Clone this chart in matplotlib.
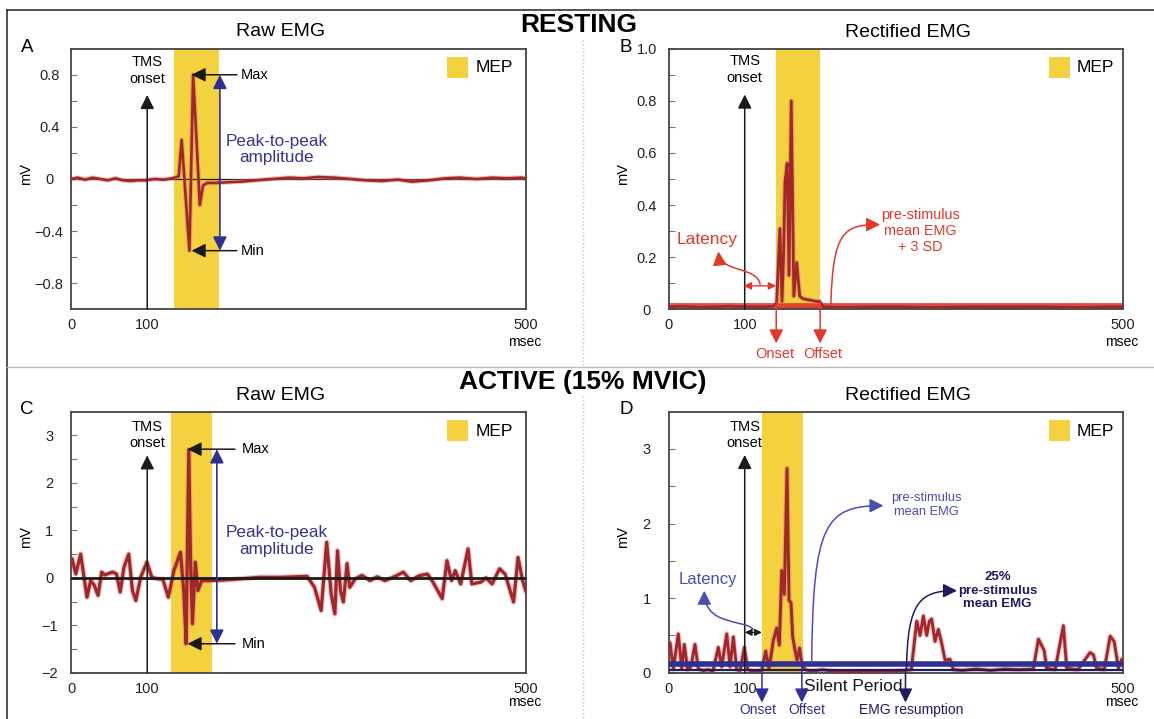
import numpy as np
import matplotlib
matplotlib.use('Agg')
import matplotlib.pyplot as plt
from matplotlib.patches import Rectangle, FancyArrowPatch
from matplotlib.path import Path
from matplotlib.lines import Line2D

plt.rcParams['font.family'] = ['Liberation Sans', 'DejaVu Sans']

W, H = 1154, 719

# time axis: msec, TMS pulse at 100 ms
TMS_T = 100
XTICKS = [0, 100, 500]
XTICKLABELS = ['0', '100', '500']

# A - resting, raw EMG (mV)
A_T = [0, 8, 18, 28, 38, 48, 58, 68, 78, 88, 98, 108, 118, 126, 133.3, 136.4, 144.6, 148.5, 155.6, 159,
       163.4, 172, 185, 200, 215, 232, 250, 265, 280, 298, 315, 330, 348, 365, 380, 398, 415, 430, 448,
       465, 480, 495, 500]
A_MV = [0.0, 0.01, -0.005, 0.01, 0.0, -0.01, 0.005, -0.01, -0.015, -0.01, -0.01, 0.0, -0.005, 0.005, 0.02,
        0.30, -0.55, 0.80, -0.20, -0.05, -0.03, -0.03, -0.025, -0.02, -0.01, 0.0, 0.01, 0.005, 0.015, 0.01,
        0.0, -0.01, -0.015, -0.005, -0.02, -0.01, 0.005, 0.01, 0.0, 0.01, 0.005, 0.01, 0.005]
MEP_A = (128, 175.5)

# B - resting, rectified EMG
B_T = [0, 20, 40, 60, 80, 100, 120, 130, 133.7, 137.2, 139.4, 141, 142.6, 144.9, 146.8, 149.2, 151.9, 155,
       158.1, 162, 169.7, 176, 179.3, 183.2, 200, 250, 300, 350, 400, 450, 500]
B_MV = [0.01, 0.012, 0.008, 0.01, 0.012, 0.01, 0.01, 0.012, 0.025, 0.31, 0.03, 0.20, 0.49, 0.56, 0.13, 0.80,
        0.05, 0.18, 0.05, 0.04, 0.035, 0.03, 0.03, 0.01, 0.008, 0.01, 0.008, 0.01, 0.01, 0.008, 0.01]
MEP_B = (132.6, 179.7)
B_ONSET, B_OFFSET = 133.3, 179.7
B_THRESH = 0.013          # pre-stimulus mean + 3 SD

# C - active, raw EMG
C_T = [0, 0.9, 5.8, 12.2, 20.5, 25.4, 30, 35.1, 40.0, 44, 47.4, 51, 54.6, 59.5, 64.4, 69.3, 75.6, 80.5,
       85.0, 91.3, 99.6, 104.8, 110, 116.5, 122.3, 128.2, 135.2, 138.8, 141.1, 143.9, 145.8, 147.8, 150.8,
       153.6, 157.5, 163.4, 179.1, 200, 218.2, 240, 255, 269.0, 276.8, 283.8, 289.7, 294.4, 298.3, 301.1,
       304.2, 307.3, 311.2, 314.0, 319.9, 327, 335.5, 343, 351.2, 362, 370.7, 378.5, 387, 396.1, 402.0,
       411.7, 416.8, 421.6, 425.5, 431.3, 439.1, 443.0, 452.8, 458, 464.5, 472.3, 478.2, 487.2, 491.9,
       496.7, 500]
C_MV = [0.35, 0.40, 0.08, 0.50, -0.41, -0.06, -0.15, -0.37, 0.12, 0.06, 0.08, 0.10, 0.12, 0.08, -0.30,
        0.22, 0.50, -0.27, -0.48, 0.01, 0.33, 0.01, -0.02, -0.03, -0.41, 0.15, 0.54, -0.34, -1.39, 2.70,
        0.36, -0.97, 0.33, -0.27, -0.06, -0.06, -0.05, -0.02, 0.01, 0.01, 0.02, 0.03, -0.20, -0.69, 0.75,
        -0.34, -0.76, 0.57, -0.27, -0.51, 0.30, -0.20, -0.02, 0.05, -0.06, 0.02, -0.06, 0.03, 0.12, -0.06,
        0.04, 0.08, -0.09, -0.44, 0.36, -0.06, 0.15, -0.13, 0.61, -0.13, -0.09, 0.0, -0.13, 0.19, 0.08,
        -0.51, 0.43, -0.06, -0.27]
MEP_C = (125.1, 168.1)

# D - active, rectified EMG
D_T = [0, 1.5, 5.8, 12.4, 16.9, 20.3, 24.7, 29, 34.4, 38.8, 45, 52, 58, 65.2, 69.6, 76.3, 80.7, 85.0, 89.4,
       94, 99.5, 103.1, 110, 117.9, 122.2, 125.7, 130.2, 133.8, 136.6, 139.1, 141.9, 144.7, 146.8, 148.9,
       150.7, 153.2, 155.3, 158.0, 160.5, 164, 171, 181.6, 195, 210, 225, 240, 255, 268, 276, 281.8, 285.3,
       288.8, 292.3, 295.1, 297.6, 301.1, 304.6, 308.1, 311.7, 317, 320.5, 330, 345, 360, 375, 390, 405,
       410.4, 414, 416.4, 419.2, 428, 436.8, 440.3, 452, 465, 468.5, 472, 480, 486.2, 490.4, 495, 498.5, 500]
D_MV = [0.38, 0.40, 0.05, 0.52, 0.06, 0.38, 0.04, 0.08, 0.38, 0.05, 0.03, 0.04, 0.02, 0.34, 0.08, 0.52,
        0.08, 0.48, 0.04, 0.03, 0.34, 0.04, 0.02, 0.03, 0.29, 0.05, 0.43, 0.60, 0.37, 1.37, 1.05, 2.74,
        0.97, 0.94, 0.48, 0.30, 0.17, 0.33, 0.11, 0.04, 0.02, 0.04, 0.02, 0.01, 0.02, 0.015, 0.02, 0.03,
        0.04, 0.69, 0.50, 0.76, 0.50, 0.69, 0.72, 0.42, 0.58, 0.40, 0.17, 0.18, 0.04, 0.03, 0.05, 0.03,
        0.05, 0.04, 0.05, 0.45, 0.36, 0.30, 0.06, 0.04, 0.63, 0.06, 0.04, 0.27, 0.24, 0.06, 0.04, 0.49,
        0.42, 0.06, 0.18, 0.12]
MEP_D = (118.2, 161.1)
D_ONSET, D_OFFSET, D_RESUME = 118.2, 160.4, 269.9
D_PRE_MEAN = 0.12

# colours
TRACE = '#A3262A'
HALO = '#CF7C7C'
YELLOW = '#F3D13F'
RED = '#E2382B'
NAVY = '#2E3192'
BLUE = '#4A4DB3'
PURPLE = '#35348F'
DARK_NAVY = '#1E1B5E'
INK = '#1A1A1A'

# the time axis is drawn stretched after the TMS pulse
K = 1.248


def _fwd(t):
    t = np.asarray(t, float)
    return np.where(t <= TMS_T, t, TMS_T + (t - TMS_T) * K)


def _inv(u):
    u = np.asarray(u, float)
    return np.where(u <= TMS_T, u, TMS_T + (u - TMS_T) / K)


HEAD = '-|>,head_length=0.6,head_width=0.3'
HEAD2 = '<|-|>,head_length=0.6,head_width=0.3'
SMALL2 = '<|-|>,head_length=0.45,head_width=0.22'

fig = plt.figure(figsize=(W / 100, H / 100), dpi=100)


def px_axes(left, top, right, bottom):
    return fig.add_axes([left / W, 1 - bottom / H, (right - left) / W, (bottom - top) / H])


def setup(ax, ylim, major, labels, minor, msec_y):
    ax.set_xscale('function', functions=(_fwd, _inv))
    ax.set_xlim(0, 500)
    ax.set_ylim(*ylim)
    ax.set_xticks(XTICKS)
    ax.set_xticklabels(XTICKLABELS)
    ax.set_yticks(major)
    ax.set_yticklabels(labels)
    ax.set_yticks(minor, minor=True)
    ax.xaxis.set_minor_locator(matplotlib.ticker.NullLocator())
    ax.tick_params(axis='x', length=0, pad=6.5, labelsize=10.5, labelcolor='#222')
    ax.tick_params(axis='y', which='both', direction='in', length=4, width=0.8, color='#777',
                   pad=16, labelsize=10.5, labelcolor='#222')
    plt.setp(ax.get_yticklabels(), ha='center')
    for s in ax.spines.values():
        s.set_color('#444')
        s.set_linewidth(1.3)
    ax.set_ylabel('mV', fontsize=10.5)
    ax.yaxis.set_label_coords(-0.085, 0.52)
    ax.text(0.997, msec_y, 'msec', transform=ax.transAxes, ha='center', va='center', fontsize=10)


def mep(ax, span, sq_x, txt_x):
    ax.axvspan(span[0], span[1], color=YELLOW, lw=0, zorder=0)
    ax.add_patch(Rectangle((sq_x, 0.886), 0.046, 0.081, transform=ax.transAxes,
                           color=YELLOW, lw=0))
    ax.text(txt_x, 0.926, 'MEP', transform=ax.transAxes, fontsize=12.5, va='center')


def trace(ax, t, v, lw=1.9):
    ax.plot(t, v, color=HALO, lw=lw + 1.6, alpha=0.45, solid_joinstyle='round', zorder=2)
    ax.plot(t, v, color=TRACE, lw=lw, solid_joinstyle='round', zorder=3)


def tms(ax, y0, y1, ytxt):
    ax.annotate('', xy=(TMS_T, y1), xytext=(TMS_T, y0),
                arrowprops=dict(arrowstyle=HEAD, mutation_scale=14, lw=1.1, color=INK,
                                shrinkA=0, shrinkB=0), zorder=4)
    ax.text(TMS_T, ytxt, 'TMS\nonset', ha='center', va='center', fontsize=10.5, linespacing=1.2)


def arrow(ax, xy, xytext, color, style=HEAD, ms=14, lw=1.1, z=5):
    ax.annotate('', xy=xy, xytext=xytext, annotation_clip=False,
                arrowprops=dict(arrowstyle=style, mutation_scale=ms, lw=lw, color=color,
                                shrinkA=0, shrinkB=0), zorder=z)


def curve(ax, pts, color, lw=1.1):
    path = Path(pts, [Path.MOVETO, Path.CURVE4, Path.CURVE4, Path.CURVE4])
    ax.add_patch(FancyArrowPatch(path=path, arrowstyle=HEAD, mutation_scale=14, lw=lw,
                                 color=color, clip_on=False, zorder=5))


def peak_to_peak(ax, tip_t, tail_t, txt_t, ymax, ymin, bar_t, label_y):
    arrow(ax, (tip_t, ymax), (tail_t, ymax), INK)
    arrow(ax, (tip_t, ymin), (tail_t, ymin), INK)
    ax.text(txt_t, ymax, 'Max', va='center', fontsize=10.5)
    ax.text(txt_t, ymin, 'Min', va='center', fontsize=10.5)
    arrow(ax, (bar_t, ymax), (bar_t, ymin), NAVY, style=HEAD2, lw=1.2)
    ax.text(236.9, label_y, 'Peak-to-peak\namplitude', ha='center', va='center',
            fontsize=12.3, color=PURPLE, linespacing=1.15)


# ---------------- A: resting, raw ----------------
axA = px_axes(71.4, 48.7, 525.7, 309.3)
setup(axA, (-1.0, 1.0), [-0.8, -0.4, 0, 0.4, 0.8], ['\u22120.8', '\u22120.4', '0', '0.4', '0.8'],
      [-0.6, -0.2, 0.2, 0.6], -0.124)
mep(axA, MEP_A, 0.827, 0.889)
axA.axhline(0, color=INK, lw=0.9, zorder=1)
trace(axA, A_T, A_MV, lw=1.9)
tms(axA, -1.0, 0.645, 0.833)
peak_to_peak(axA, 146.9, 194.7, 199.3, 0.80, -0.55, 176.8, 0.226)

# ---------------- B: resting, rectified ----------------
axB = px_axes(668.9, 48.7, 1123.2, 309.3)
setup(axB, (0, 1.0), [0, 0.2, 0.4, 0.6, 0.8, 1.0], ['0', '0.2', '0.4', '0.6', '0.8', '1.0'],
      [0.1, 0.3, 0.5, 0.7, 0.9], -0.124)
mep(axB, MEP_B, 0.837, 0.898)
axB.axhline(B_THRESH, color='#DE3B2D', lw=4.8, alpha=0.95, zorder=2)
trace(axB, B_T, B_MV, lw=2.0)
tms(axB, 0, 0.824, 0.92)
arrow(axB, (B_ONSET, -0.131), (B_ONSET, 0.03), RED)
arrow(axB, (B_OFFSET, -0.131), (B_OFFSET, 0.03), RED)
axB.text(132, -0.17, 'Onset', ha='center', va='center', fontsize=10.5, color=RED)
axB.text(182, -0.17, 'Offset', ha='center', va='center', fontsize=10.5, color=RED)
arrow(axB, (B_ONSET, 0.09), (98.5, 0.09), RED, style=SMALL2, ms=10, lw=1.0)
curve(axB, [(116.3, 0.096), (113, 0.165), (68, 0.14), (65.3, 0.222)], RED)
axB.text(50.5, 0.266, 'Latency', ha='center', va='center', fontsize=12.5, color=RED)
curve(axB, [(191, 0.015), (193, 0.30), (205, 0.325), (243.2, 0.325)], RED)
axB.text(285.6, 0.30, 'pre-stimulus\nmean EMG\n+ 3 SD', ha='center', va='center', fontsize=10.4,
         color=RED, linespacing=1.15)

# ---------------- C: active, raw ----------------
axC = px_axes(71.4, 411.7, 525.7, 672.7)
setup(axC, (-2.0, 3.5), [-2, -1, 0, 1, 2, 3], ['\u22122', '\u22121', '0', '1', '2', '3'],
      [-1.5, -0.5, 0.5, 1.5, 2.5], -0.111)
mep(axC, MEP_C, 0.827, 0.889)
axC.axhline(0, color=INK, lw=2.0, zorder=4)
trace(axC, C_T, C_MV, lw=2.3)
tms(axC, -2.0, 2.58, 3.01)
peak_to_peak(axC, 142.6, 192.7, 199.4, 2.71, -1.39, 173.6, 0.77)

# ---------------- D: active, rectified ----------------
axD = px_axes(668.9, 411.7, 1123.2, 672.7)
setup(axD, (0, 3.5), [0, 1, 2, 3], ['0', '1', '2', '3'], [0.5, 1.5, 2.5], -0.111)
mep(axD, MEP_D, 0.837, 0.898)
trace(axD, D_T, D_MV, lw=2.1)
axD.axhline(D_PRE_MEAN, color=NAVY, lw=4.0, zorder=4)
axD.axhline(0.25 * D_PRE_MEAN, color=DARK_NAVY, lw=1.6, zorder=4)
tms(axD, 0, 2.92, 3.19)
arrow(axD, (D_ONSET, -0.40), (D_ONSET, 0.1), NAVY)
arrow(axD, (D_OFFSET, -0.40), (D_OFFSET, 0.1), NAVY)
arrow(axD, (D_RESUME, -0.40), (D_RESUME, 0.05), DARK_NAVY)
axD.text(114.4, -0.50, 'Onset', ha='center', va='center', fontsize=10, color=NAVY)
axD.text(165.9, -0.50, 'Offset', ha='center', va='center', fontsize=10, color=NAVY)
axD.text(276, -0.50, 'EMG resumption', ha='center', va='center', fontsize=10, color=DARK_NAVY)
axD.text(162.7, -0.18, 'Silent Period', ha='left', va='center', fontsize=12.5, color=INK)
arrow(axD, (D_ONSET, 0.54), (TMS_T, 0.54), INK, style=SMALL2, ms=9, lw=1.0)
curve(axD, [(109, 0.58), (100, 0.72), (46.7, 0.62), (46.7, 1.1)], BLUE)
axD.text(50.9, 1.25, 'Latency', ha='center', va='center', fontsize=12, color=BLUE)
curve(axD, [(170.8, 0.13), (172, 2.0), (185, 2.24), (246.7, 2.24)], BLUE)
axD.text(291.5, 2.25, 'pre-stimulus\nmean EMG', ha='center', va='center', fontsize=9.3,
         color=BLUE, linespacing=1.15)
curve(axD, [(271, 0.05), (272, 0.95), (285, 1.1), (324.4, 1.1)], DARK_NAVY)
axD.text(367, 1.10, '25%\npre-stimulus\nmean EMG', ha='center', va='center', fontsize=9.5,
         fontweight='bold', color=DARK_NAVY, linespacing=1.15)

# ---------------- titles, panel letters, frame ----------------
for x, y, s in [(281, 32, 'Raw EMG'), (907.6, 32.3, 'Rectified EMG'),
                (281, 395, 'Raw EMG'), (907.6, 395, 'Rectified EMG')]:
    fig.text(x / W, 1 - y / H, s, ha='center', va='center', fontsize=14)
for x, y, s in [(27, 48, 'A'), (625.8, 48, 'B'), (27, 410, 'C'), (625.8, 410, 'D')]:
    fig.text(x / W, 1 - y / H, s, ha='center', va='center', fontsize=13.5)
fig.text(579 / W, 1 - 24.5 / H, 'RESTING', ha='center', va='center', fontsize=19, fontweight='bold')
fig.text(582.5 / W, 1 - 382 / H, 'ACTIVE (15% MVIC)', ha='center', va='center', fontsize=19,
         fontweight='bold')

fig.add_artist(Line2D([7.4 / W, 1], [1 - 10 / H, 1 - 10 / H], color='#222', lw=1.1))
fig.add_artist(Line2D([7.4 / W, 7.4 / W], [1 - 10 / H, 0], color='#222', lw=1.1))
fig.add_artist(Line2D([7.4 / W, 1], [1 - 366.7 / H, 1 - 366.7 / H], color='#BBBBBB', lw=1.0))
fig.add_artist(Line2D([583 / W, 583 / W], [1 - 40 / H, 1 - 366 / H], color='#C4C4C4', lw=1.0, ls=':'))
fig.add_artist(Line2D([583 / W, 583 / W], [1 - 396 / H, 0], color='#C4C4C4', lw=1.0, ls=':'))

fig.savefig('out.png', dpi=100)
